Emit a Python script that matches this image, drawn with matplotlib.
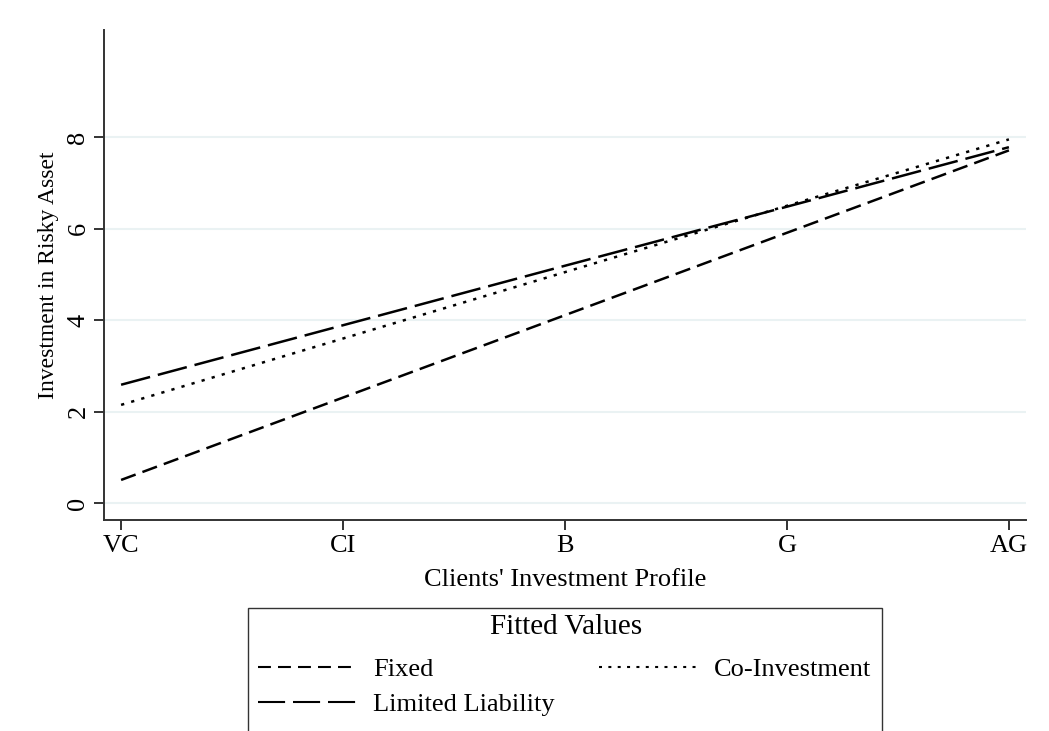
import numpy as np
import matplotlib
matplotlib.use('Agg')
import matplotlib.pyplot as plt
from matplotlib.patches import Rectangle

# categories on the x axis (clients' investment profile)
profiles = ['VC', 'CI', 'B', 'G', 'AG']

# fitted values
fixed = [0.51, 2.31, 4.11, 5.91, 7.71]
co_investment = [2.15, 3.60, 5.05, 6.50, 7.95]
limited_liability = [2.59, 3.89, 5.19, 6.48, 7.78]

y_ticks = [0, 2, 4, 6, 8]

plt.rcParams['font.family'] = ['Liberation Serif', 'DejaVu Serif']

W, H = 1049, 731
fig = plt.figure(figsize=(W / 100, H / 100), dpi=100)
ax = fig.add_axes([104 / W, 1 - 520 / H, (1026 - 104) / W, (520 - 30) / H])

xpos = np.arange(len(profiles))
lw = 1.8
ax.plot(xpos, fixed, color='black', lw=lw, dashes=(6.2, 2.9), label='Fixed')
ax.plot(xpos, limited_liability, color='black', lw=lw, dashes=(12, 3.2), label='Limited Liability')
ax.plot(xpos, co_investment, color='black', lw=lw, dashes=(1.3, 2.9), label='Co-Investment')

ax.set_xlim(-0.077, len(profiles) - 1 + 0.077)
ax.set_ylim(-0.365, 10.34)
ax.set_xticks(xpos, profiles)
ax.set_yticks(y_ticks)
ax.tick_params(axis='both', labelsize=19, length=7, width=1.4, color='#333333')
for lab in ax.get_yticklabels():
    lab.set_rotation(90)
    lab.set_va('center')
ax.grid(axis='y', color='#eaf2f3', lw=1.5)
ax.set_axisbelow(True)
for s in ['top', 'right']:
    ax.spines[s].set_visible(False)
for s in ['left', 'bottom']:
    ax.spines[s].set_color('#333333')
    ax.spines[s].set_linewidth(1.4)

ax.set_xlabel("Clients' Investment Profile", fontsize=19, labelpad=9)
ax.set_ylabel('Investment in Risky Asset', fontsize=17, labelpad=6)

# legend (box runs off the bottom of the figure)
fig.add_artist(Rectangle((248 / W, -0.05), (882 - 248) / W, (1 - 608 / H) + 0.05,
                         transform=fig.transFigure, fill=False, edgecolor='#333333',
                         lw=1.0, clip_on=False))
fig.text(566 / W, 1 - 627 / H, 'Fitted Values', fontsize=21, ha='center', va='center')
handles, labels = ax.get_legend_handles_labels()
leg = fig.legend(handles, labels, loc='upper left', bbox_to_anchor=(248 / W, 1 - 648 / H), ncol=2,
                 frameon=False, fontsize=19,
                 handlelength=3.8, handletextpad=0.55, columnspacing=1.7,
                 borderaxespad=0, borderpad=0.38, labelspacing=0.42)
leg_dashes = [(6.2, 3.4), (13, 3.8), (1.44, 3.05)]
for h, d in zip(leg.legend_handles, leg_dashes):
    h.set_linewidth(1.5)
    h.set_dashes(d)

fig.savefig('out.png', dpi=100)
